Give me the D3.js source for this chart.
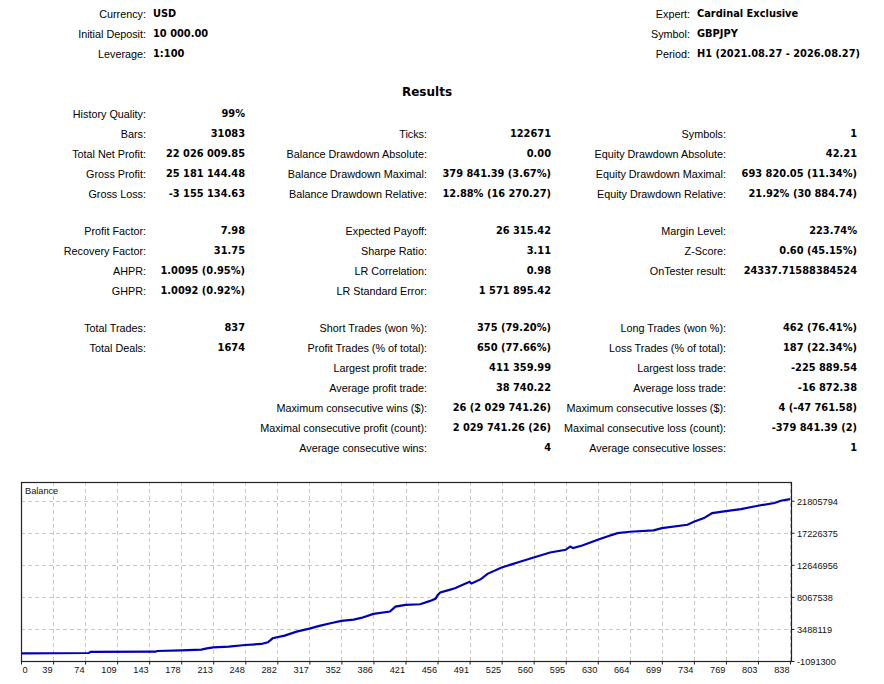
<!DOCTYPE html>
<html>
<head>
<meta charset="utf-8">
<script src="https://cdn.jsdelivr.net/npm/d3@7"></script>
<style>
  html, body { margin: 0; padding: 0; background: #fff; }
  svg { display: block; }
  .lbl { font-family: "Liberation Sans", Arial, sans-serif; font-size: 10.8px; fill: #000; }
  .val { font-family: "DejaVu Sans", Verdana, sans-serif; font-weight: bold; font-size: 9.85px; fill: #000; }
  .ttl { font-family: "DejaVu Sans", Verdana, sans-serif; font-weight: bold; font-size: 12px; fill: #000; }
  .ax  { font-family: "Liberation Sans", Arial, sans-serif; font-size: 9.2px; fill: #111; }
</style>
</head>
<body>
<svg id="chart" width="884" height="684"></svg>
<script>
// ---------- header ----------
const headerLeftLabels  = ["Currency:", "Initial Deposit:", "Leverage:"];
const headerLeftValues  = ["USD", "10 000.00", "1:100"];
const headerRightLabels = ["Expert:", "Symbol:", "Period:"];
const headerRightValues = ["Cardinal Exclusive", "GBPJPY", "H1 (2021.08.27 - 2026.08.27)"];
const resultsTitle = "Results";

// ---------- results table (label, value) x 3 columns ----------
const group1Rows = [
  ["History Quality:", "99%", "", "", "", ""],
  ["Bars:", "31083", "Ticks:", "122671", "Symbols:", "1"],
  ["Total Net Profit:", "22 026 009.85", "Balance Drawdown Absolute:", "0.00", "Equity Drawdown Absolute:", "42.21"],
  ["Gross Profit:", "25 181 144.48", "Balance Drawdown Maximal:", "379 841.39 (3.67%)", "Equity Drawdown Maximal:", "693 820.05 (11.34%)"],
  ["Gross Loss:", "-3 155 134.63", "Balance Drawdown Relative:", "12.88% (16 270.27)", "Equity Drawdown Relative:", "21.92% (30 884.74)"]
];
const group2Rows = [
  ["Profit Factor:", "7.98", "Expected Payoff:", "26 315.42", "Margin Level:", "223.74%"],
  ["Recovery Factor:", "31.75", "Sharpe Ratio:", "3.11", "Z-Score:", "0.60 (45.15%)"],
  ["AHPR:", "1.0095 (0.95%)", "LR Correlation:", "0.98", "OnTester result:", "24337.71588384524"],
  ["GHPR:", "1.0092 (0.92%)", "LR Standard Error:", "1 571 895.42", "", ""]
];
const group3Rows = [
  ["Total Trades:", "837", "Short Trades (won %):", "375 (79.20%)", "Long Trades (won %):", "462 (76.41%)"],
  ["Total Deals:", "1674", "Profit Trades (% of total):", "650 (77.66%)", "Loss Trades (% of total):", "187 (22.34%)"],
  ["", "", "Largest profit trade:", "411 359.99", "Largest loss trade:", "-225 889.54"],
  ["", "", "Average profit trade:", "38 740.22", "Average loss trade:", "-16 872.38"],
  ["", "", "Maximum consecutive wins ($):", "26 (2 029 741.26)", "Maximum consecutive losses ($):", "4 (-47 761.58)"],
  ["", "", "Maximal consecutive profit (count):", "2 029 741.26 (26)", "Maximal consecutive loss (count):", "-379 841.39 (2)"],
  ["", "", "Average consecutive wins:", "4", "Average consecutive losses:", "1"]
];

// ---------- balance chart ----------
const chartTitle = "Balance";
const xTickLabels = [0, 39, 74, 109, 143, 178, 213, 248, 282, 317, 352, 386, 421, 456, 491, 525, 560, 595, 630, 664, 699, 734, 769, 803, 838];
const yTickLabels = [-1091300, 3488119, 8067538, 12646956, 17226375, 21805794];
const tradeNo = [0, 78, 80, 150, 152, 178, 200, 206, 213, 230, 248, 265, 272, 277, 290, 303, 317, 328, 340, 352, 365, 373, 386, 404, 410, 421, 437, 448, 454, 456, 459, 469, 475, 491, 493, 503, 510, 525, 545, 560, 578, 595, 600, 603, 613, 630, 640, 651, 664, 690, 699, 727, 734, 745, 754, 769, 785, 803, 821, 828, 838];
const balance = [10000, 50000, 200000, 240000, 340000, 435000, 531000, 721000, 864000, 960000, 1198000, 1342000, 1580000, 2152000, 2534000, 3106000, 3536000, 3917000, 4299000, 4633000, 4824000, 5062000, 5635000, 5969000, 6684000, 6923000, 7018000, 7495000, 7829000, 8306000, 8688000, 9069000, 9308000, 10214000, 9976000, 10596000, 11359000, 12265000, 13076000, 13696000, 14412000, 14793000, 15270000, 15032000, 15414000, 16225000, 16702000, 17179000, 17369000, 17560000, 17894000, 18371000, 18800000, 19325000, 20041000, 20327000, 20613000, 21090000, 21471000, 21806000, 22036009];

const svg = d3.select("#chart");

// ---------- header drawing ----------
const headerY = d3.scaleLinear().domain([0, 1]).range([14, 34]);
const hdr = svg.append("g");
headerLeftLabels.forEach((t, i) => {
  hdr.append("text").attr("class", "lbl").attr("x", 146).attr("y", headerY(i)).attr("dy", "0.35em").attr("text-anchor", "end").text(t);
  hdr.append("text").attr("class", "val").attr("x", 153).attr("y", headerY(i)).attr("dy", "0.35em").text(headerLeftValues[i]);
});
headerRightLabels.forEach((t, i) => {
  hdr.append("text").attr("class", "lbl").attr("x", 690).attr("y", headerY(i)).attr("dy", "0.35em").attr("text-anchor", "end").text(t);
  hdr.append("text").attr("class", "val").attr("x", 697).attr("y", headerY(i)).attr("dy", "0.35em").text(headerRightValues[i]);
});
svg.append("text").attr("class", "ttl").attr("x", 427).attr("y", 92).attr("dy", "0.35em").attr("text-anchor", "middle").text(resultsTitle);

// ---------- results drawing ----------
const colRight = [146, 245, 427, 551, 726, 857];
const groups = [group1Rows, group2Rows, group3Rows];
const rowStep = 20, groupGap = 17;
let yCursor = 114;
const tbl = svg.append("g");
groups.forEach(rows => {
  rows.forEach(r => {
    r.forEach((cell, c) => {
      if (!cell) return;
      tbl.append("text")
        .attr("class", c % 2 === 0 ? "lbl" : "val")
        .attr("x", colRight[c]).attr("y", yCursor).attr("dy", "0.35em")
        .attr("text-anchor", "end").text(cell);
    });
    yCursor += rowStep;
  });
  yCursor += groupGap;
});

// ---------- chart ----------
const plot = { left: 21, right: 792, top: 482, bottom: 661, lastGrid: 790 };
const gridRange = xTickLabels.map((_, i) => plot.left + i * (plot.lastGrid - plot.left) / (xTickLabels.length - 1));
const x = d3.scaleLinear().domain(xTickLabels).range(gridRange);
const y = d3.scaleLinear().domain([yTickLabels[0], yTickLabels[yTickLabels.length - 1]]).range([plot.bottom, 500.7]);

const g = svg.append("g");
g.append("rect").attr("x", plot.left).attr("y", plot.top)
  .attr("width", plot.right - plot.left).attr("height", plot.bottom - plot.top)
  .attr("fill", "#fff");

// gridlines
g.selectAll("line.vg").data(xTickLabels.slice(1)).enter().append("line")
  .attr("x1", d => Math.round(x(d)) + 0.5).attr("x2", d => Math.round(x(d)) + 0.5)
  .attr("y1", plot.top).attr("y2", plot.bottom)
  .attr("stroke", "#c8c8c8").attr("stroke-dasharray", "4,3");
g.selectAll("line.hg").data(yTickLabels.slice(1)).enter().append("line")
  .attr("y1", d => Math.round(y(d)) + 0.5).attr("y2", d => Math.round(y(d)) + 0.5)
  .attr("x1", plot.left).attr("x2", plot.right)
  .attr("stroke", "#c8c8c8").attr("stroke-dasharray", "4,3");

// balance line
svg.append("clipPath").attr("id", "clip").append("rect")
  .attr("x", plot.left).attr("y", plot.top).attr("width", plot.right - plot.left).attr("height", plot.bottom - plot.top);
const pts = tradeNo.map((t, i) => [t, balance[i]]);
g.append("path").datum(pts)
  .attr("clip-path", "url(#clip)")
  .attr("fill", "none").attr("stroke", "#0000b4").attr("stroke-width", 2.2)
  .attr("stroke-linejoin", "miter")
  .attr("d", d3.line().x(d => x(d[0])).y(d => y(d[1])));

// frame
g.append("rect").attr("x", plot.left + 0.5).attr("y", plot.top + 0.5)
  .attr("width", plot.right - plot.left - 1).attr("height", plot.bottom - plot.top)
  .attr("fill", "none").attr("stroke", "#222").attr("stroke-width", 1.2);

// axis ticks + labels
const xAxis = d3.axisBottom(x).tickValues(xTickLabels).tickSize(3).tickFormat(d => d);
const xg = g.append("g").attr("transform", `translate(0,${plot.bottom + 0.5})`).call(xAxis);
xg.select(".domain").remove();
xg.selectAll(".tick line").attr("stroke", "#222");
xg.selectAll(".tick text").attr("class", "ax").attr("font-family", null).attr("font-size", null)
  .attr("y", 4.5).attr("dy", "0.71em")
  .attr("text-anchor", (d, i) => i === 0 ? "start" : "end")
  .attr("x", (d, i) => i === 0 ? 1 : -1);

const yAxis = d3.axisRight(y).tickValues(yTickLabels).tickSize(3).tickFormat(d => d);
const yg = g.append("g").attr("transform", `translate(${plot.right - 0.5},0)`).call(yAxis);
yg.select(".domain").remove();
yg.selectAll(".tick line").attr("stroke", "#222");
yg.selectAll(".tick text").attr("class", "ax").attr("font-family", null).attr("font-size", null)
  .attr("x", 5.5).attr("dy", "0.4em");

g.append("text").attr("class", "ax").attr("x", 25).attr("y", 491).attr("dy", "0.35em").text(chartTitle);
</script>
</body>
</html>
